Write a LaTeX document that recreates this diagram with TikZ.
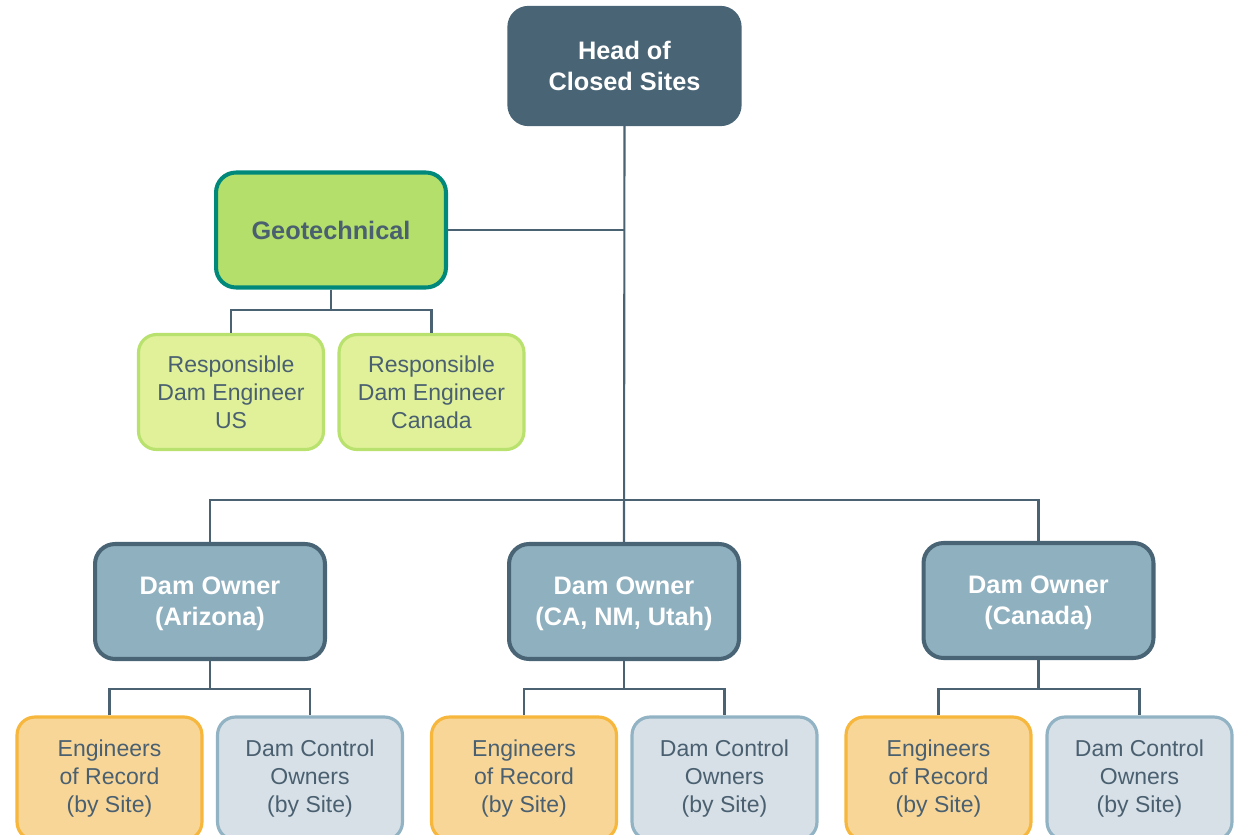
\documentclass[tikz,border=0pt]{standalone}
\usepackage{fontspec}
\setmainfont{Liberation Sans}
\usepackage{tikz}
\usetikzlibrary{positioning}
\definecolor{headSlate}{RGB}{72,100,117}
\definecolor{lineSlate}{RGB}{74,98,114}
\definecolor{textSlate}{RGB}{74,96,112}
\definecolor{geoGreen}{RGB}{179,223,106}
\definecolor{geoTeal}{RGB}{0,137,123}
\definecolor{rdeGreen}{RGB}{224,241,154}
\definecolor{rdeBorder}{RGB}{184,225,110}
\definecolor{ownerBlue}{RGB}{143,176,191}
\definecolor{eorOrange}{RGB}{248,214,152}
\definecolor{eorBorder}{RGB}{246,183,60}
\definecolor{dcoGray}{RGB}{215,224,231}
\definecolor{dcoBorder}{RGB}{146,179,195}

\begin{document}
\begin{tikzpicture}[x=0.02cm, y=-0.02cm,
    conn/.style={draw=lineSlate, line width=1.2pt},
    bigbox/.style={rounded corners=0.4cm, minimum width=4.6cm, minimum height=2.3cm, align=center,
      font=\fontsize{14.4}{17.6}\selectfont\bfseries},
    ownerbox/.style={bigbox, draw=headSlate, fill=ownerBlue, line width=2.3pt, text=white, text depth=0pt},
    smallbox/.style={rounded corners=0.36cm, minimum width=3.7cm, minimum height=2.3cm, align=center,
      text=textSlate, line width=1.8pt, font=\fontsize{13.1}{15.9}\selectfont},
    sitebox/.style={smallbox, minimum height=2.46cm}]
  \useasboundingbox (0,0) rectangle (1238,835);
  \clip (0,0) rectangle (1238,835);
  % top of the chart
  \node[bigbox, draw=headSlate, fill=headSlate, line width=1pt, minimum width=4.65cm, minimum height=2.37cm, text=white] (head) at (624.5,66) {Head of\\Closed Sites};
  \node[bigbox, draw=geoTeal, fill=geoGreen, line width=2.3pt, text=textSlate] (geo) at (331,230) {Geotechnical};
  \node[smallbox, draw=rdeBorder, fill=rdeGreen] (rdeUS) at (231,392) {Responsible\\Dam Engineer\\US};
  \node[smallbox, draw=rdeBorder, fill=rdeGreen] (rdeCA) at (431.5,392) {Responsible\\Dam Engineer\\Canada};
  % dam owners
  \node[ownerbox] (ownAZ) at (210,601.5) {Dam Owner\\(Arizona)};
  \node[ownerbox] (ownCA) at (624,601.5) {Dam Owner\\(CA, NM, Utah)};
  \node[ownerbox] (ownCN) at (1038.5,600.5) {Dam Owner\\(Canada)};
  % per site boxes
  \node[sitebox, draw=eorBorder, fill=eorOrange] (eorAZ) at (109.5,778.5) {Engineers\\of Record\\(by Site)};
  \node[sitebox, draw=dcoBorder, fill=dcoGray] (dcoAZ) at (310,778.5) {Dam Control\\Owners\\(by Site)};
  \node[sitebox, draw=eorBorder, fill=eorOrange] (eorCA) at (524,778.5) {Engineers\\of Record\\(by Site)};
  \node[sitebox, draw=dcoBorder, fill=dcoGray] (dcoCA) at (724.5,778.5) {Dam Control\\Owners\\(by Site)};
  \node[sitebox, draw=eorBorder, fill=eorOrange] (eorCN) at (938.5,778.5) {Engineers\\of Record\\(by Site)};
  \node[sitebox, draw=dcoBorder, fill=dcoGray] (dcoCN) at (1139.5,778.5) {Dam Control\\Owners\\(by Site)};
  % connectors
  \coordinate (ownBus) at (624,500);
  \coordinate (geoBus) at (331,310);
  \coordinate (azBus) at (210,689);
  \coordinate (caBus) at (624,689);
  \coordinate (cnBus) at (1038.5,689);
  \draw[conn] (head.south) -- (ownCA.north);
  \draw[conn] (geo.east) -- (geo.east -| head.south);
  \draw[conn] (ownAZ.north) |- (ownBus) -| (ownCN.north);
  \draw[conn] (geo.south) -- (geoBus);
  \draw[conn] (rdeUS.north) |- (geoBus) -| (rdeCA.north);
  \draw[conn] (ownAZ.south) -- (azBus);
  \draw[conn] (eorAZ.north) |- (azBus) -| (dcoAZ.north);
  \draw[conn] (ownCA.south) -- (caBus);
  \draw[conn] (eorCA.north) |- (caBus) -| (dcoCA.north);
  \draw[conn] (ownCN.south) -- (cnBus);
  \draw[conn] (eorCN.north) |- (cnBus) -| (dcoCN.north);
\end{tikzpicture}
\end{document}
